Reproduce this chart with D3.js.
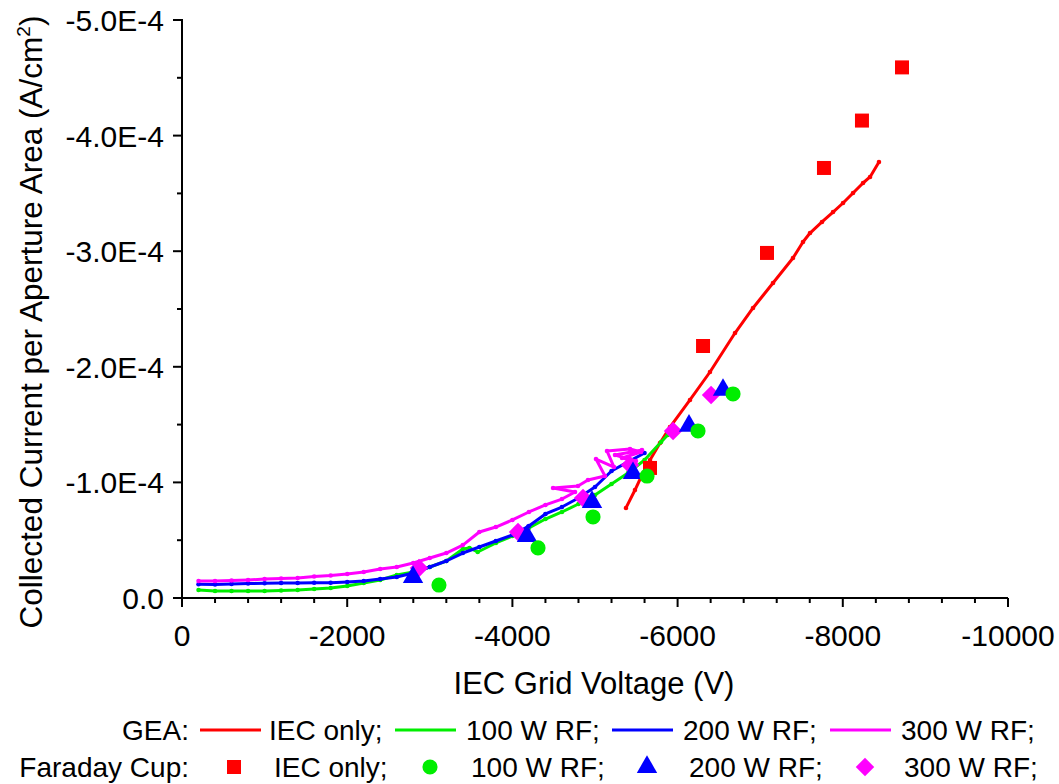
<!DOCTYPE html>
<html>
<head>
<meta charset="utf-8">
<script src="https://cdn.jsdelivr.net/npm/d3@7"></script>
<style>
  html, body { margin: 0; padding: 0; background: #fff; }
  svg { display: block; }
  text { font-family: "Liberation Sans", Arial, sans-serif; fill: #000; }
</style>
</head>
<body>
<svg id="chart" width="1059" height="784"></svg>
<script>
// ---------- DATA ----------
// GEA curves (x in V, y in A/cm^2)
const geaIecX = [-5375,-5484,-5569,-5666,-5787,-5908,-6150,-6392,-6695,-6913,-7155,-7397,-7518,-7603,-7748,-7882,-8003,-8124,-8245,-8330,-8438];
const geaIecY = [-0.779e-4,-0.934e-4,-1.064e-4,-1.194e-4,-1.341e-4,-1.479e-4,-1.713e-4,-1.955e-4,-2.292e-4,-2.509e-4,-2.725e-4,-2.941e-4,-3.080e-4,-3.157e-4,-3.253e-4,-3.339e-4,-3.417e-4,-3.503e-4,-3.590e-4,-3.642e-4,-3.772e-4];

const gea100X = [-200,-400,-600,-800,-1000,-1200,-1400,-1600,-1800,-2000,-2200,-2400,-2600,-2800,-3000,-3200,-3400,-3480,-3580,-3800,-4000,-4200,-4400,-4600,-4800,-5000,-5200,-5400,-5600,-5800,-5880];
const gea100Y = [-0.069e-4,-0.061e-4,-0.061e-4,-0.061e-4,-0.061e-4,-0.065e-4,-0.069e-4,-0.078e-4,-0.087e-4,-0.104e-4,-0.130e-4,-0.156e-4,-0.199e-4,-0.225e-4,-0.268e-4,-0.320e-4,-0.424e-4,-0.433e-4,-0.398e-4,-0.476e-4,-0.536e-4,-0.606e-4,-0.683e-4,-0.744e-4,-0.813e-4,-0.891e-4,-0.986e-4,-1.081e-4,-1.194e-4,-1.350e-4,-1.410e-4];

const gea200X = [-200,-400,-600,-800,-1000,-1200,-1400,-1600,-1800,-2000,-2200,-2400,-2600,-2800,-3000,-3200,-3400,-3600,-3800,-4000,-4200,-4400,-4600,-4800,-5000,-5200,-5400,-5600];
const gea200Y = [-0.119e-4,-0.117e-4,-0.121e-4,-0.125e-4,-0.127e-4,-0.130e-4,-0.130e-4,-0.132e-4,-0.132e-4,-0.138e-4,-0.147e-4,-0.164e-4,-0.182e-4,-0.216e-4,-0.268e-4,-0.320e-4,-0.389e-4,-0.441e-4,-0.493e-4,-0.545e-4,-0.623e-4,-0.727e-4,-0.787e-4,-0.865e-4,-0.960e-4,-1.099e-4,-1.177e-4,-1.254e-4];

const gea300X = [-200,-400,-600,-800,-1000,-1200,-1400,-1600,-1800,-2000,-2200,-2400,-2600,-2800,-3000,-3200,-3400,-3600,-3800,-4000,-4200,-4400,-4600,-4758,-4492,-4794,-4915,-5121,-5012,-5230,-5145,-5424,-5557,-5327,-5496,-5242,-5569];
const gea300Y = [-0.147e-4,-0.147e-4,-0.151e-4,-0.156e-4,-0.164e-4,-0.169e-4,-0.173e-4,-0.186e-4,-0.195e-4,-0.208e-4,-0.225e-4,-0.251e-4,-0.268e-4,-0.303e-4,-0.346e-4,-0.389e-4,-0.458e-4,-0.571e-4,-0.614e-4,-0.675e-4,-0.744e-4,-0.805e-4,-0.856e-4,-0.917e-4,-0.952e-4,-0.969e-4,-1.021e-4,-1.055e-4,-1.202e-4,-1.133e-4,-1.272e-4,-1.289e-4,-1.263e-4,-1.211e-4,-1.185e-4,-1.237e-4,-1.280e-4];

// Faraday cup points
const fcIecX = [-5666,-6308,-7082,-7772,-8232,-8717];
const fcIecY = [-1.125e-4,-2.180e-4,-2.985e-4,-3.720e-4,-4.130e-4,-4.590e-4];
const fc100X = [-3111,-4310,-4976,-5630,-6247,-6671];
const fc100Y = [-0.112e-4,-0.433e-4,-0.701e-4,-1.055e-4,-1.445e-4,-1.765e-4];
const fc200X = [-2797,-4177,-4964,-5460,-6138,-6550];
const fc200Y = [-0.180e-4,-0.536e-4,-0.830e-4,-1.080e-4,-1.490e-4,-1.800e-4];
const fc300X = [-2869,-4068,-4855,-5424,-5945,-6405];
const fc300Y = [-0.260e-4,-0.571e-4,-0.865e-4,-1.150e-4,-1.445e-4,-1.756e-4];

// ticks
const xTicks = [0,-2000,-4000,-6000,-8000,-10000];
const xTickLabels = ["0","-2000","-4000","-6000","-8000","-10000"];
const yTicks = [0,-1e-4,-2e-4,-3e-4,-4e-4,-5e-4];
const yTickLabels = ["0.0","-1.0E-4","-2.0E-4","-3.0E-4","-4.0E-4","-5.0E-4"];

const legendLabels = ["IEC only;","100 W RF;","200 W RF;","300 W RF;"];
const colors = ["#ff0000","#00ee00","#0000ff","#ff00ff"];

// ---------- CHART ----------
const svg = d3.select("#chart");
const x = d3.scaleLinear().domain([0,-10000]).range([182,1008]);
const y = d3.scaleLinear().domain([0,-5e-4]).range([598,20]);

const zip = (xs, ys) => xs.map((v,i)=>[v, ys[i]]);
const line = d3.line().x(d=>x(d[0])).y(d=>y(d[1]));

const geaSeries = [zip(geaIecX,geaIecY), zip(gea100X,gea100Y), zip(gea200X,gea200Y), zip(gea300X,gea300Y)];
geaSeries.forEach((s,i)=>{
  svg.append("path").datum(s).attr("d",line)
    .attr("fill","none").attr("stroke",colors[i]).attr("stroke-width",3)
    .attr("stroke-linejoin","round");
  svg.append("g").selectAll("circle").data(s).join("circle")
    .attr("cx",d=>x(d[0])).attr("cy",d=>y(d[1])).attr("r",2.3).attr("fill",colors[i]);
});

const sym = {
  square: d3.symbol().type(d3.symbolSquare).size(196),
  circle: d3.symbol().type(d3.symbolCircle).size(180),
  triangle: d3.symbol().type(d3.symbolTriangle).size(180),
  diamond: d3.symbol().type(d3.symbolSquare).size(170)
};
function drawPts(xs, ys, kind, color){
  svg.append("g").selectAll("path").data(zip(xs,ys)).join("path")
    .attr("d", sym[kind]())
    .attr("fill", color)
    .attr("transform", d=>`translate(${x(d[0])},${y(d[1])})${kind==="diamond"?" rotate(45)":""}`);
}
drawPts(fcIecX, fcIecY, "square", colors[0]);
drawPts(fc300X, fc300Y, "diamond", colors[3]);
drawPts(fc200X, fc200Y, "triangle", colors[2]);
drawPts(fc100X, fc100Y, "circle", colors[1]);

// axes
const xAxis = svg.append("g").attr("transform","translate(0,598)");
xAxis.append("line").attr("x1",181).attr("x2",1008).attr("y1",0).attr("y2",0).attr("stroke","#000").attr("stroke-width",2);
xAxis.selectAll(".minor").data(d3.range(0,-10001,-400).filter(v=>v%2000!==0)).join("line")
  .attr("x1",d=>x(d)).attr("x2",d=>x(d)).attr("y1",0).attr("y2",5).attr("stroke","#000").attr("stroke-width",2);
xAxis.selectAll(".major").data(xTicks).join("line")
  .attr("x1",d=>x(d)).attr("x2",d=>x(d)).attr("y1",0).attr("y2",9).attr("stroke","#000").attr("stroke-width",2);
xAxis.selectAll("text").data(xTicks).join("text")
  .attr("x",d=>x(d)).attr("y",48).attr("text-anchor","middle").attr("font-size",30)
  .text((d,i)=>xTickLabels[i]);

const yAxis = svg.append("g");
yAxis.append("line").attr("x1",182).attr("x2",182).attr("y1",19).attr("y2",599).attr("stroke","#000").attr("stroke-width",2);
yAxis.selectAll(".minor").data([-0.5e-4,-1.5e-4,-2.5e-4,-3.5e-4,-4.5e-4]).join("line")
  .attr("x1",177).attr("x2",182).attr("y1",d=>y(d)).attr("y2",d=>y(d)).attr("stroke","#000").attr("stroke-width",2);
yAxis.selectAll(".major").data(yTicks).join("line")
  .attr("x1",173).attr("x2",182).attr("y1",d=>y(d)).attr("y2",d=>y(d)).attr("stroke","#000").attr("stroke-width",2);
yAxis.selectAll("text").data(yTicks).join("text")
  .attr("x",164).attr("y",d=>y(d)+11).attr("text-anchor","end").attr("font-size",30)
  .text((d,i)=>yTickLabels[i]);

// axis titles
svg.append("text").attr("x",594).attr("y",694).attr("text-anchor","middle").attr("font-size",31)
  .text("IEC Grid Voltage (V)");
const yt = svg.append("text").attr("transform","translate(42,322) rotate(-90)")
  .attr("text-anchor","middle").attr("font-size",31.5);
yt.append("tspan").text("Collected Current per Aperture Area (A/cm");
yt.append("tspan").attr("font-size",19).attr("dy",-12).text("2");
yt.append("tspan").attr("dy",12).text(")");

// legend
const lg = svg.append("g");
const row1 = 730, row2 = 767;
lg.append("text").attr("x",189).attr("y",row1+10).attr("text-anchor","end").attr("font-size",28).text("GEA:");
lg.append("text").attr("x",189).attr("y",row2+10).attr("text-anchor","end").attr("font-size",28).text("Faraday Cup:");
const lineX = [200,395,612,830];
const lineTextX = [269,466,683,901];
lineX.forEach((lx,i)=>{
  lg.append("line").attr("x1",lx).attr("x2",lx+61).attr("y1",row1).attr("y2",row1)
    .attr("stroke",colors[i]).attr("stroke-width",3);
  lg.append("text").attr("x",lineTextX[i]).attr("y",row1+10).attr("font-size",28).text(legendLabels[i]);
});
const symX = [234,430,647,865];
const symTextX = [274,471,689,904];
const kinds = ["square","circle","triangle","diamond"];
symX.forEach((sx,i)=>{
  lg.append("path").attr("d",sym[kinds[i]]()).attr("fill",colors[i])
    .attr("transform",`translate(${sx},${row2})${kinds[i]==="diamond"?" rotate(45)":""}`);
  lg.append("text").attr("x",symTextX[i]).attr("y",row2+10).attr("font-size",28).text(legendLabels[i]);
});
</script>
</body>
</html>
